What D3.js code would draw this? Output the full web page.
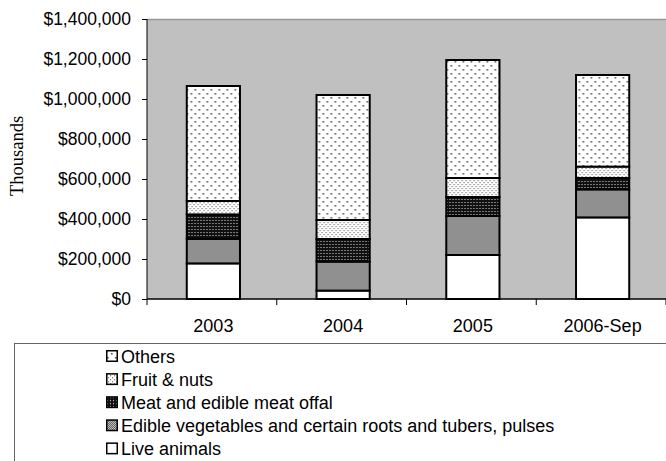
<!DOCTYPE html>
<html>
<head>
<meta charset="utf-8">
<script src="https://cdn.jsdelivr.net/npm/d3@7"></script>
<style>
  body { margin: 0; background: #fff; }
  svg { display: block; font-family: "Liberation Sans", Arial, sans-serif; }
</style>
</head>
<body>
<div id="chart"></div>
<script>
// data (thousands of $)
const years = ["2003", "2004", "2005", "2006-Sep"];
const liveAnimals = [178000, 42000, 220000, 408000];
const edibleVeg = [123000, 145000, 195000, 140000];
const meatOffal = [122000, 113000, 95000, 57000];
const fruitNuts = [67000, 95000, 95000, 57000];
const others = [575000, 625000, 590000, 458000];
const yTicks = [0, 200000, 400000, 600000, 800000, 1000000, 1200000, 1400000];

const seriesNames = [
    "Live animals",
    "Edible vegetables and certain roots and tubers, pulses",
    "Meat and edible meat offal",
    "Fruit & nuts",
    "Others"
];
const seriesKeys = ["live", "veg", "meat", "fruit", "others"];

const width = 666;
const height = 461;
const plot = { left: 147, right: 666, top: 19, bottom: 299 };

const rows = years.map((y, i) => ({
    year: y,
    live: liveAnimals[i],
    veg: edibleVeg[i],
    meat: meatOffal[i],
    fruit: fruitNuts[i],
    others: others[i],
}));

const stacked = d3.stack().keys(seriesKeys)(rows);

const svg = d3.select("#chart")
    .append("svg")
    .attr("width", width)
    .attr("height", height);

// fill patterns
const defs = svg.append("defs");

function addPattern(id, size, bg, dots, dotColor, dotSize) {
    const p = defs.append("pattern")
        .attr("id", id)
        .attr("patternUnits", "userSpaceOnUse")
        .attr("width", size)
        .attr("height", size);
    p.append("rect").attr("width", size).attr("height", size).attr("fill", bg);
    dots.forEach(([x, y]) => {
        p.append("rect")
            .attr("x", x).attr("y", y)
            .attr("width", dotSize).attr("height", dotSize)
            .attr("fill", dotColor);
    });
}

addPattern("p-others", 8, "#fff", [[1, 1], [5, 5]], "#555", 1.6);
addPattern("p-fruit", 4, "#fff", [[0, 0], [2, 2]], "#777", 1.2);
addPattern("p-meat", 3, "#111", [[1, 1]], "#ddd", 1);
addPattern("p-veg", 2, "#fff", [[0, 0], [1, 1]], "#222", 1);

const fills = {
    live: "#fff",
    veg: "url(#p-veg)",
    meat: "url(#p-meat)",
    fruit: "url(#p-fruit)",
    others: "url(#p-others)",
};

const xScale = d3.scaleBand()
    .domain(years)
    .range([plot.left, plot.right])
    .paddingInner(0.59)
    .paddingOuter(0.295);

const yScale = d3.scaleLinear()
    .domain([0, 1400000])
    .range([plot.bottom, plot.top]);

// plot background
svg.append("rect")
    .attr("x", plot.left)
    .attr("y", plot.top)
    .attr("width", plot.right - plot.left)
    .attr("height", plot.bottom - plot.top)
    .attr("fill", "#c0c0c0");

svg.append("line")
    .attr("x1", plot.left).attr("x2", plot.right)
    .attr("y1", plot.top + 0.5).attr("y2", plot.top + 0.5)
    .attr("stroke", "#999")
    .attr("stroke-width", 1.5);

// bars (nudged right a touch, like the original)
svg.append("g")
    .attr("transform", "translate(1.5, 0)")
    .selectAll("g")
    .data(stacked)
    .join("g")
    .attr("fill", (d) => fills[d.key])
    .selectAll("rect")
    .data((d) => d)
    .join("rect")
    .attr("x", (d) => xScale(d.data.year))
    .attr("y", (d) => yScale(d[1]))
    .attr("width", xScale.bandwidth())
    .attr("height", (d) => yScale(d[0]) - yScale(d[1]))
    .attr("stroke", "#000")
    .attr("stroke-width", 2);

// Y axis
const yAxis = d3.axisLeft(yScale)
    .tickValues(yTicks)
    .tickSize(5)
    .tickPadding(11)
    .tickFormat((d) => "$" + d3.format(",")(d));

const yG = svg.append("g")
    .attr("transform", `translate(${plot.left}, 0)`)
    .call(yAxis);
yG.select(".domain").attr("stroke", "#000").attr("d", `M0,${plot.top}V${plot.bottom}`);
yG.selectAll("text")
    .attr("font-size", 17.5)
    .attr("font-family", "Liberation Sans, Arial, sans-serif")
    .attr("fill", "#000");

// X axis: ticks sit on category boundaries
const xG = svg.append("g")
    .attr("transform", `translate(0, ${plot.bottom})`);
xG.append("line")
    .attr("x1", plot.left).attr("x2", plot.right)
    .attr("stroke", "#000").attr("stroke-width", 1.5);
const step = xScale.step();
xG.selectAll(".tick")
    .data(d3.range(years.length + 1))
    .join("line")
    .attr("class", "tick")
    .attr("x1", (i) => plot.left + i * (plot.right - plot.left) / years.length)
    .attr("x2", (i) => plot.left + i * (plot.right - plot.left) / years.length)
    .attr("y1", 0).attr("y2", 6)
    .attr("stroke", "#000");
xG.selectAll("text")
    .data(years)
    .join("text")
    .attr("x", (d) => xScale(d) + xScale.bandwidth() / 2 + 1.5)
    .attr("y", 33)
    .attr("text-anchor", "middle")
    .attr("font-size", 18)
    .attr("fill", "#000")
    .text((d) => d);

// Y title
svg.append("text")
    .attr("transform", "translate(23, 156) rotate(-90)")
    .attr("text-anchor", "middle")
    .attr("font-family", "Liberation Serif, Times New Roman, serif")
    .attr("font-size", 18.5)
    .attr("fill", "#000")
    .text("Thousands");

// legend
svg.append("rect")
    .attr("x", 14.5)
    .attr("y", 343.5)
    .attr("width", 700)
    .attr("height", 200)
    .attr("fill", "#fff")
    .attr("stroke", "#666");

const legendOrder = [4, 3, 2, 1, 0];
const legend = svg.append("g")
    .selectAll("g")
    .data(legendOrder)
    .join("g")
    .attr("transform", (d, i) => `translate(106, ${356 + i * 23.1})`);

legend.append("rect")
    .attr("x", 0.75)
    .attr("y", -5.25)
    .attr("width", 10.5)
    .attr("height", 10.5)
    .attr("fill", (d) => fills[seriesKeys[d]])
    .attr("stroke", "#000")
    .attr("stroke-width", 1.5);

legend.append("text")
    .attr("x", 15)
    .attr("y", 6.5)
    .attr("font-size", 18)
    .attr("fill", "#000")
    .text((d) => seriesNames[d]);
</script>
</body>
</html>
